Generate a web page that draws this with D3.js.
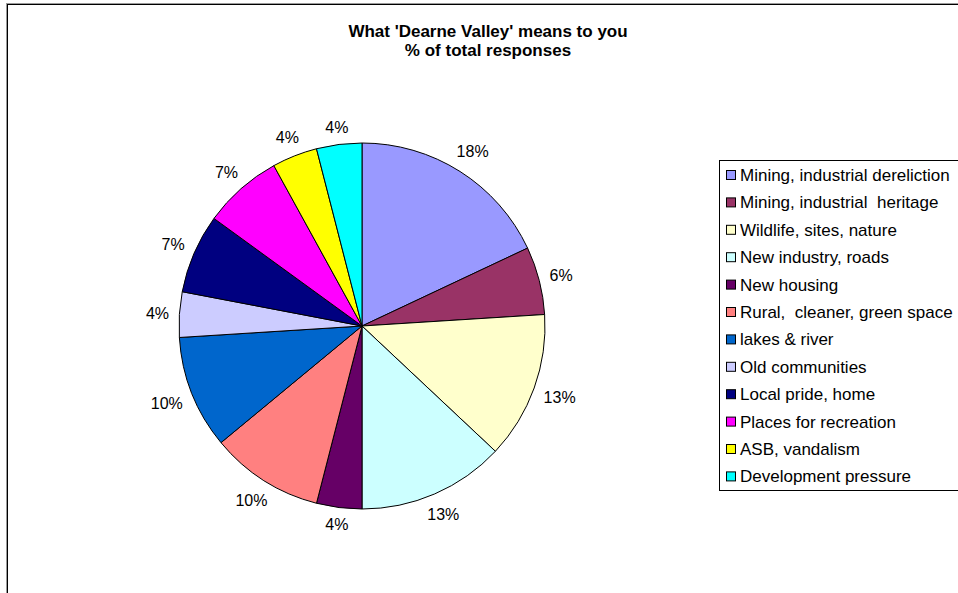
<!DOCTYPE html>
<html>
<head>
<meta charset="utf-8">
<script src="https://cdn.jsdelivr.net/npm/d3@7"></script>
<style>
  html, body { margin: 0; padding: 0; background: #ffffff; }
  svg { display: block; }
  text { font-family: "Liberation Sans", Arial, sans-serif; fill: #000; white-space: pre; }
</style>
</head>
<body>
<svg id="chart" width="958" height="593"></svg>
<script>
// Answers to "What 'Dearne Valley' means to you", share of all responses (%)
const categories = [
  "Mining, industrial dereliction",
  "Mining, industrial  heritage",
  "Wildlife, sites, nature",
  "New industry, roads",
  "New housing",
  "Rural,  cleaner, green space",
  "lakes & river",
  "Old communities",
  "Local pride, home",
  "Places for recreation",
  "ASB, vandalism",
  "Development pressure"
];
const values = [18, 6, 13, 13, 4, 10, 10, 4, 7, 7, 4, 4];
const sliceColors = [
  "#9999FF", "#993366", "#FFFFCC", "#CCFFFF", "#660066", "#FF8080",
  "#0066CC", "#CCCCFF", "#000080", "#FF00FF", "#FFFF00", "#00FFFF"
];
const titleLines = ["What 'Dearne Valley' means to you", "% of total responses"];

const svg = d3.select("#chart");

// chart area frame (runs off the right and bottom edges)
svg.append("rect").attr("x", 6.5).attr("y", 3.5).attr("width", 1000).attr("height", 700)
  .attr("fill", "none").attr("stroke", "#9a9a9a").attr("stroke-width", 1);
svg.append("rect").attr("x", 7.5).attr("y", 4.5).attr("width", 1000).attr("height", 700)
  .attr("fill", "#fff").attr("stroke", "#000").attr("stroke-width", 1);

// title
const title = svg.append("g");
title.selectAll("text").data(titleLines).join("text")
  .attr("x", 488)
  .attr("y", (d, i) => 36.5 + i * 19.5)
  .attr("text-anchor", "middle")
  .attr("font-weight", "bold")
  .attr("font-size", 17)
  .text(d => d);

// pie
const cx = 362, cy = 326, r = 183;
const pie = d3.pie().sort(null).value(d => d);
const arcs = pie(values);
const arc = d3.arc().innerRadius(0).outerRadius(r);
const color = d3.scaleOrdinal().domain(categories).range(sliceColors);

const g = svg.append("g").attr("transform", `translate(${cx},${cy})`);
g.selectAll("path").data(arcs).join("path")
  .attr("d", arc)
  .attr("fill", (d, i) => color(categories[i]))
  .attr("stroke", "#000")
  .attr("stroke-width", 1)
  .attr("stroke-linejoin", "round");

// data labels placed just outside the rim, box edge facing the slice
const labelSize = 16;
const labelGap = 10;
const labels = g.selectAll("text.lbl").data(arcs).join("text")
  .attr("class", "lbl")
  .attr("font-size", labelSize)
  .attr("text-anchor", "middle")
  .text(d => d3.format(".0f")(d.value) + "%");
labels.each(function(d) {
  const w = this.getComputedTextLength();
  const h = labelSize * 0.72;
  const a = (d.startAngle + d.endAngle) / 2;
  const s = Math.sin(a), c = Math.cos(a);
  const dist = r + labelGap + (w / 2) * Math.abs(s) + (h / 2) * Math.abs(c);
  d3.select(this)
    .attr("x", dist * s)
    .attr("y", -dist * c + h / 2);
});

// legend
const legX = 719.5, legY = 160.5, rowH = 27.4, firstBase = 181;
const legend = svg.append("g");
legend.append("rect").attr("x", legX).attr("y", legY)
  .attr("width", 300).attr("height", 330)
  .attr("fill", "#fff").attr("stroke", "#000").attr("stroke-width", 1);
const rows = legend.selectAll("g.row").data(categories).join("g").attr("class", "row")
  .attr("transform", (d, i) => `translate(0,${firstBase + i * rowH})`);
rows.append("rect")
  .attr("x", 726.5).attr("y", -10.5).attr("width", 9).attr("height", 9)
  .attr("fill", d => color(d)).attr("stroke", "#000").attr("stroke-width", 1);
rows.append("text")
  .attr("x", 740).attr("y", 0)
  .attr("font-size", 17)
  .text(d => d);
</script>
</body>
</html>
